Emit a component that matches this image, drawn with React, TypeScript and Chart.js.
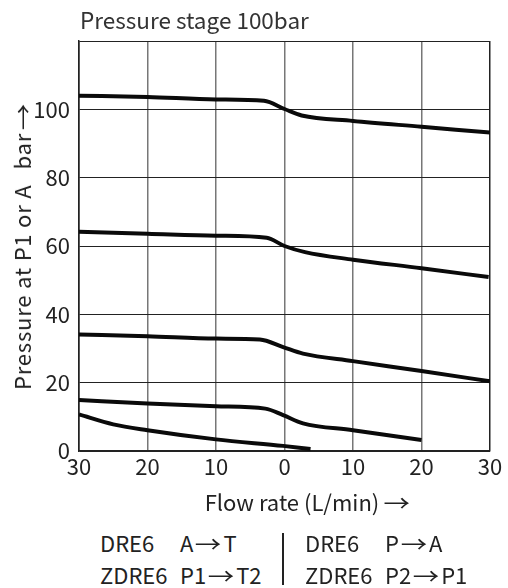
import React, { useEffect, useRef } from "react";
import { Chart, registerables } from "chart.js";

Chart.register(...registerables);

const curve1X = [-30, -20, -10, -3, 0, 2.5, 10, 20, 30];
const curve1Y = [104, 103.6, 102.9, 102.5, 100.1, 98.2, 96.6, 94.9, 93.2];
const curve2X = [-30, -20, -10, -2.6, 0, 3, 10, 20, 29.8];
const curve2Y = [64.2, 63.6, 63, 62.4, 60, 58.2, 56, 53.5, 50.9];
const curve3X = [-30, -20, -10, -3.6, -0.2, 2.7, 10, 20, 30];
const curve3Y = [34.1, 33.6, 32.9, 32.6, 30.4, 28.5, 26.3, 23.4, 20.4];
const curve4X = [-30, -20, -10, -2.8, -0.2, 2.7, 10, 20];
const curve4Y = [14.9, 13.9, 13.1, 12.4, 10.5, 8.1, 6.1, 3.2];
const curve5X = [-30, -25, -20, -10, -0.2, 3.8];
const curve5Y = [10.7, 7.8, 6.1, 3.4, 1.5, 0.6];

const title = "Pressure stage 100bar";
const yTitleMain = "Pressure at P1 or A";
const yTitleUnit = "bar";
const xTitle = "Flow rate (L/min)";
const ARROW = "\u2192";
// legend rows: [model, from, to]
const legendLeft = [
  ["DRE6", "A", "T"],
  ["ZDRE6", "P1", "T2"],
];
const legendRight = [
  ["DRE6", "P", "A"],
  ["ZDRE6", "P2", "P1"],
];

const FONT = "'Noto Sans CJK SC', 'Noto Sans', sans-serif";

const zip = (xs: number[], ys: number[]) => xs.map((x, i) => ({ x, y: ys[i] }));

function Arrow({ gap = 5 }: { gap?: number }) {
  return (
    <span style={{ display: "inline-block", transform: "scaleX(1.2)", margin: `0 ${gap}px` }}>{ARROW}</span>
  );
}

function LegendRow({ row, left, top }: { row: string[]; left: number; top: number }) {
  return (
    <div
      style={{
        position: "absolute",
        left,
        top,
        fontFamily: FONT,
        fontSize: 22,
        lineHeight: "30px",
        color: "#222",
        whiteSpace: "pre",
        display: "flex",
      }}
    >
      <span style={{ display: "inline-block", width: 80 }}>{row[0]}</span>
      <span>{row[1]}</span>
      <Arrow gap={4} />
      <span>{row[2]}</span>
    </div>
  );
}

export default function App() {
  const ref = useRef<HTMLCanvasElement | null>(null);
  useEffect(() => {
    if (!ref.current) return;
    const mk = (xs: number[], ys: number[]) => ({
      data: zip(xs, ys),
      borderColor: "#0a0a0a",
      borderWidth: 4,
      pointRadius: 0,
      fill: false,
      cubicInterpolationMode: "monotone" as const,
      borderCapStyle: "butt" as const,
    });
    const chart = new Chart(ref.current, {
      type: "line",
      data: {
        datasets: [
          mk(curve1X, curve1Y),
          mk(curve2X, curve2Y),
          mk(curve3X, curve3Y),
          mk(curve4X, curve4Y),
          mk(curve5X, curve5Y),
        ],
      },
      options: {
        responsive: false,
        animation: false,
        layout: { padding: { left: 0, right: 18, top: 41, bottom: 29 } },
        plugins: { legend: { display: false }, tooltip: { enabled: false }, title: { display: false } },
        scales: {
          x: {
            type: "linear",
            min: -30,
            max: 30,
            afterFit: (s: any) => {
              s.height = 40;
            },
            ticks: {
              stepSize: 10,
              padding: 2,
              color: "#222",
              font: { family: FONT, size: 22 },
              callback: (v: any) => String(Math.abs(Number(v))),
            },
            grid: {
              drawTicks: false,
              color: (c: any) => (Math.abs(c.tick?.value) === 30 ? "#222" : "#777"),
              lineWidth: 1.5,
            },
            border: { display: true, color: "#222", width: 1.5 },
          },
          y: {
            type: "linear",
            min: 0,
            max: 120,
            afterFit: (s: any) => {
              s.width = 79;
            },
            ticks: {
              stepSize: 20,
              padding: 9,
              color: "#222",
              font: { family: FONT, size: 22 },
              callback: (v: any) => (Number(v) === 120 ? "" : String(v)),
            },
            grid: {
              drawTicks: false,
              color: "#222",
              lineWidth: 1,
            },
            border: { display: true, color: "#222", width: 1.5 },
          },
        },
      },
    });
    return () => chart.destroy();
  }, []);

  const text: React.CSSProperties = {
    position: "absolute",
    fontFamily: FONT,
    fontSize: 22,
    color: "#222",
    whiteSpace: "pre",
    lineHeight: "30px",
  };

  return (
    <div style={{ position: "absolute", left: 0, top: 0, width: 508, height: 588, background: "#fff" }}>
      <canvas ref={ref} width={508} height={520} style={{ position: "absolute", left: 0, top: 0, width: 508, height: 520 }} />
      <div style={{ ...text, left: 80, top: 4, fontSize: 22.5, color: "#333" }}>{title}</div>
      <div
        style={{
          ...text,
          left: 21,
          top: 245,
          letterSpacing: "0.8px",
          transform: "translate(-50%, -50%) rotate(-90deg)",
        }}
      >
        {yTitleMain}
        <span style={{ marginLeft: 15 }}>{yTitleUnit}</span>
        <Arrow gap={5} />
      </div>
      <div style={{ ...text, left: 309, top: 486, transform: "translateX(-50%)" }}>
        {xTitle}
        <Arrow gap={6} />
      </div>
      <LegendRow row={legendLeft[0]} left={100} top={527} />
      <LegendRow row={legendLeft[1]} left={100} top={559} />
      <div style={{ position: "absolute", left: 282, top: 533, width: 1.5, height: 52, background: "#222" }} />
      <LegendRow row={legendRight[0]} left={305} top={527} />
      <LegendRow row={legendRight[1]} left={305} top={559} />
    </div>
  );
}
